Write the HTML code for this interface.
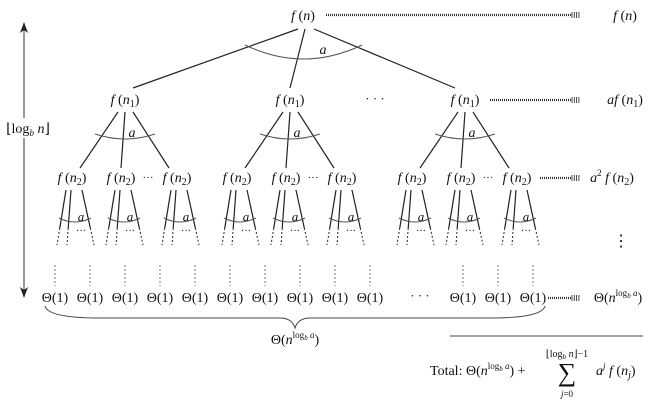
<!DOCTYPE html>
<html><head><meta charset="utf-8"><style>
html,body{margin:0;padding:0;background:#fff;}
svg text,svg tspan{font-family:"Liberation Serif","Times New Roman",serif;}
text{fill:#111;}
</style></head><body>
<svg id="s" width="653" height="406" viewBox="0 0 653 406" xmlns="http://www.w3.org/2000/svg"></svg>
<script>
const s=document.getElementById('s');let h='';
function L(x1,y1,x2,y2,st){h+=`<line x1="${x1}" y1="${y1}" x2="${x2}" y2="${y2}" stroke="${st&&st.c||'#222'}" stroke-width="${st&&st.w||1.2}" ${st&&st.d?`stroke-dasharray="${st.d}"`:''}/>`;}
function T(x,y,t,sz,anc){h+=`<text x="${x}" y="${y}" font-family="Liberation Serif, serif" font-size="${sz||14}" text-anchor="${anc||'middle'}">${t}</text>`;}
function fn(x,y,sub){T(x,y,`<tspan font-style="italic">f</tspan> (<tspan font-style="italic">n</tspan>`+(sub?`<tspan font-size="10" dy="3">${sub}</tspan><tspan dy="-3">)</tspan>`:`)`),14);}
function arrow(x1,x2,y){L(x1,y,x2-8,y,{w:2.2,d:'1 1',c:'#333'});for(let i=0;i<4;i++)L(x2-8+i*2.3,y-3,x2-8+i*2.3,y+3,{w:0.9,c:'#333'});}
function arc(x1,x2,y,dep){h+=`<path d="M${x1} ${y} Q${(x1+x2)/2} ${y+dep} ${x2} ${y}" fill="none" stroke="#555" stroke-width="1"/>`;}
const A='<tspan font-style="italic">a</tspan>';
const TH='Θ(<tspan font-style="italic">n</tspan><tspan font-size="9" dy="-6">log<tspan font-size="7" dy="2" font-style="italic">b</tspan><tspan dy="-2" font-style="italic"> a</tspan></tspan><tspan dy="6">)</tspan>';
fn(303,20);arrow(326,580,15);fn(625,20);
L(298,29,133,88);L(305,29,290,88);L(314,29,455,88);
arc(245,362,45,28);T(323,54,A,14);
const n1=[125,290,465];
n1.forEach(x=>fn(x,104,'1'));
T(375,103,'· · ·',13);arrow(490,580,100);
T(625,104,'<tspan font-style="italic">af</tspan> (<tspan font-style="italic">n</tspan><tspan font-size="10" dy="3">1</tspan><tspan dy="-3">)</tspan>',14);
const offs=[-53,-4,52];let kids=[];
n1.forEach(x=>{
 L(x-7,112,x+offs[0]+8,168);L(x,112,x+offs[1],168);L(x+8,112,x+offs[2]-8,168);
 arc(x-30,x+30,134,10);T(x+7,137,A,14);
 offs.forEach(o=>{fn(x+o,182,'2');kids.push(x+o);});
 T(x+23,181,'···',11);
});
arrow(540,580,178);
T(612,182,'<tspan font-style="italic">a</tspan><tspan font-size="9" dy="-6">2</tspan><tspan dy="6" font-style="italic"> f</tspan> (<tspan font-style="italic">n</tspan><tspan font-size="10" dy="3">2</tspan><tspan dy="-3">)</tspan>',14);
kids.forEach(x=>{
 const a=[[x-6,x-15],[x-1,x-5],[x+10,x+22]];
 a.forEach(p=>{const t=(228-190)/55;L(p[0],190,p[0]+(p[1]-p[0])*t,228);L(p[0]+(p[1]-p[0])*t,228,p[1],245,{d:'2 2',w:1});});
 arc(x-13,x+19,218,8);T(x+9,221,A,13);
 T(x+9,234,'···',10);
});
T(621,246,'⋮',16);
const lv=[55,90,125,160,195,230,265,300,335,370,463,498,533];
lv.forEach(x=>{L(x,265,x,286,{d:'2 2',w:0.8,c:'#555'});T(x,302,'Θ(1)',14);});
T(420,300,'· · ·',13);arrow(548,580,298);
T(618,302,TH,14);
h+=`<path d="M45 306 Q48 318 100 318 L280 318 Q292 318 295 328 Q298 318 310 318 L490 318 Q542 318 545 306" fill="none" stroke="#444" stroke-width="1"/>`;
T(295,344,TH,14);
L(450,336,643,336,{w:1,c:'#444'});
T(430,375,'Total: '+TH+' +',14,'start');
T(567,381,'∑',26);T(567,357,'⌊log<tspan font-size="7" dy="2" font-style="italic">b</tspan><tspan dy="-2" font-style="italic"> n</tspan>⌋−1',10);T(567,397,'<tspan font-style="italic">j</tspan>=0',9);
T(596,375,'<tspan font-style="italic">a</tspan><tspan font-size="9" dy="-6" font-style="italic">j</tspan><tspan dy="6" font-style="italic"> f</tspan> (<tspan font-style="italic">n</tspan><tspan font-size="10" dy="3" font-style="italic">j</tspan><tspan dy="-3">)</tspan>',14,'start');
L(24,28,24,292,{w:1,c:'#333'});
h+=`<path d="M24 22 L20 33 L24 30 L28 33Z" fill="#222"/><path d="M24 298 L20 287 L24 290 L28 287Z" fill="#222"/>`;
h+=`<rect x="3" y="118" width="50" height="20" fill="#fff"/>`;
T(28,133,'⌊log<tspan font-size="9" dy="3" font-style="italic">b</tspan><tspan dy="-3" font-style="italic"> n</tspan>⌋',14);
s.innerHTML=h;
</script>
</body></html>
